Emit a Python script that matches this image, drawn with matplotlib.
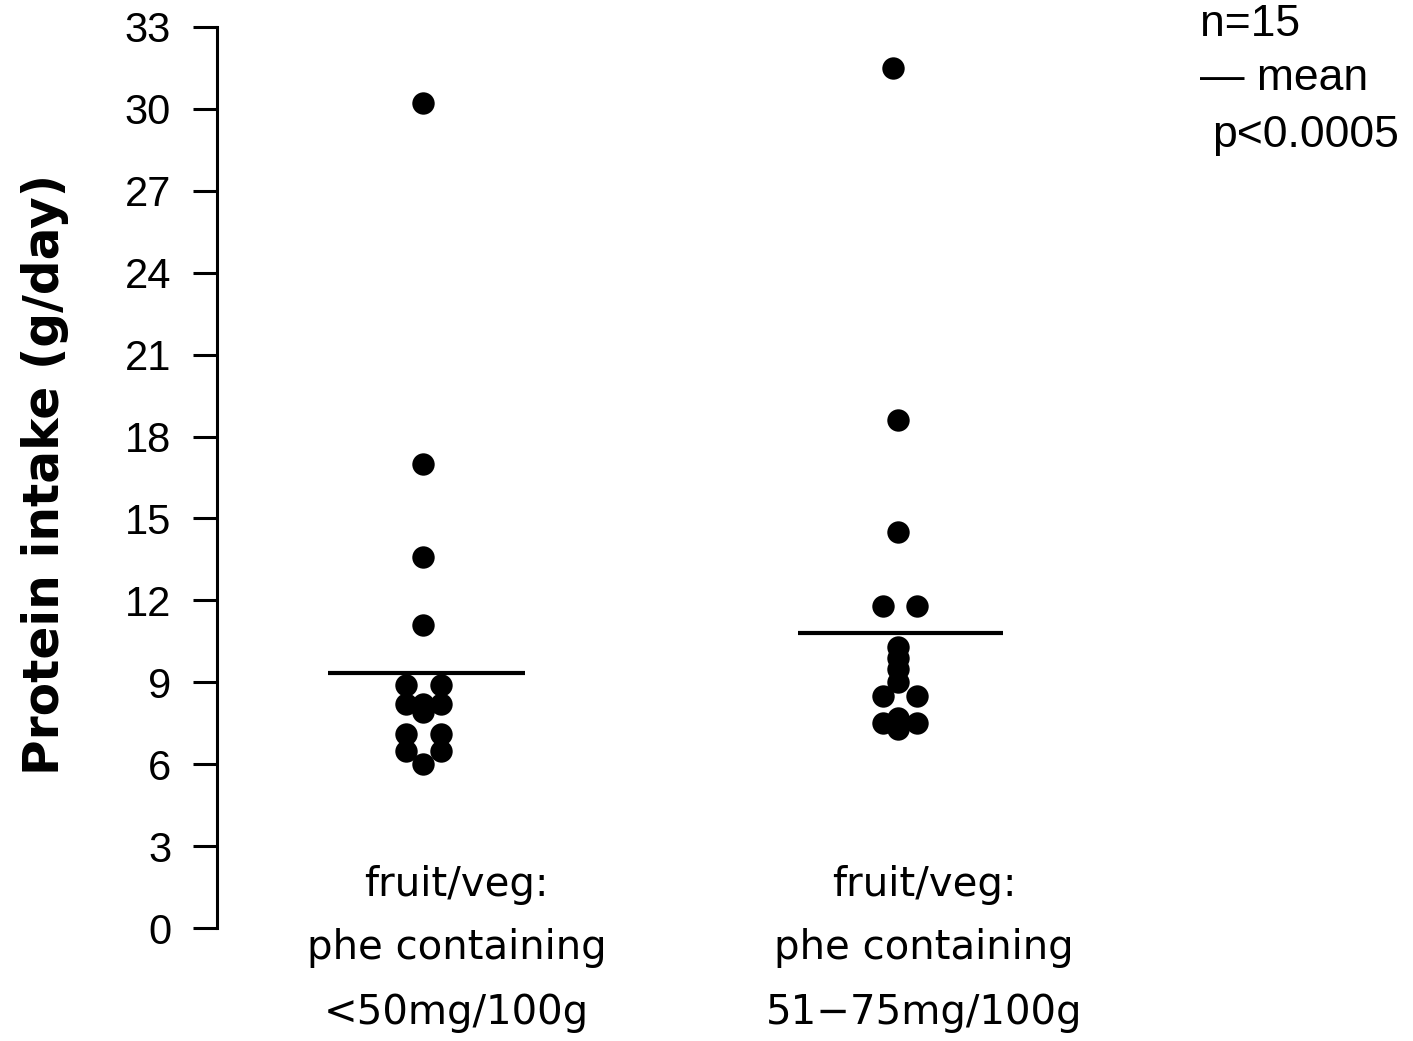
import matplotlib
matplotlib.use("Agg")
import matplotlib.pyplot as plt
import matplotlib.transforms as mtransforms

# protein intake (g/day) per subject
group_positions = [1, 2]
low_phe_x = [1.0, 1.0, 1.0, 1.0, 0.963, 1.037, 0.963, 1.0, 1.037, 1.0,
             0.963, 1.037, 0.963, 1.037, 1.0]
low_phe_y = [30.2, 17.0, 13.6, 11.1, 8.9, 8.9, 8.2, 8.2, 8.2, 7.9,
             7.1, 7.1, 6.5, 6.5, 6.0]
mid_phe_x = [0.99, 1.0, 1.0, 0.968, 1.04, 1.0, 1.0, 1.0, 1.0, 0.968,
             1.04, 0.968, 1.0, 1.0, 1.04]
mid_phe_y = [31.5, 18.6, 14.5, 11.8, 11.8, 10.3, 9.9, 9.5, 9.0, 8.5,
             8.5, 7.5, 7.7, 7.3, 7.5]
group_means = [9.35, 10.8]
yticks = list(range(0, 34, 3))
cat_labels = [["fruit/veg:", "phe containing", "<50mg/100g"],
              ["fruit/veg:", "phe containing", "51\u221275mg/100g"]]

fig = plt.figure(figsize=(14.13, 10.41), dpi=100)
ax = fig.add_axes([217 / 1413, (1041 - 928) / 1041, 880 / 1413, 901 / 1041])

ax.scatter([group_positions[0] - 1 + v for v in low_phe_x], low_phe_y,
           s=260, color="black", zorder=3, linewidths=0)
ax.scatter([group_positions[1] - 1 + v for v in mid_phe_x], mid_phe_y,
           s=260, color="black", zorder=3, linewidths=0)

ax.hlines(group_means[0], 0.80, 1.215, color="black", lw=3)
ax.hlines(group_means[1], 1.79, 2.22, color="black", lw=3)

ax.set_xlim(0.566, 0.566 + 880 / 475)
ax.set_ylim(0, 33)
ax.set_yticks(yticks)
ax.tick_params(axis="y", length=17, width=2.2, pad=16)
for lab in ax.get_yticklabels():
    lab.set_fontfamily("Liberation Sans")
    lab.set_fontsize(30)
ax.set_xticks([])
for side in ["top", "right", "bottom"]:
    ax.spines[side].set_visible(False)
ax.spines["left"].set_linewidth(2.2)

# category labels below the axis, one line at a time
trans = mtransforms.blended_transform_factory(ax.transData, fig.transFigure)
line_y = [885, 948, 1013]
for xpos, lines in zip([1.07, 2.055], cat_labels):
    for ypix, txt in zip(line_y, lines):
        ax.text(xpos, 1 - ypix / 1041, txt, ha="center", va="center",
                fontsize=29, family="DejaVu Sans", transform=trans)

fig.text(45 / 1413, 1 - 475 / 1041, "Protein intake (g/day)", rotation=90,
         ha="center", va="center", fontsize=35, fontweight="bold",
         family="DejaVu Sans")

legend_lines = ["n=15", "\u2014 mean", "p<0.0005"]
for ypix, txt, xpix in zip([24, 79, 136], legend_lines, [1200, 1200, 1212]):
    fig.text(xpix / 1413, 1 - ypix / 1041, txt, ha="left", va="center",
             fontsize=32, family="Liberation Sans")

fig.savefig("out.png", dpi=100)
